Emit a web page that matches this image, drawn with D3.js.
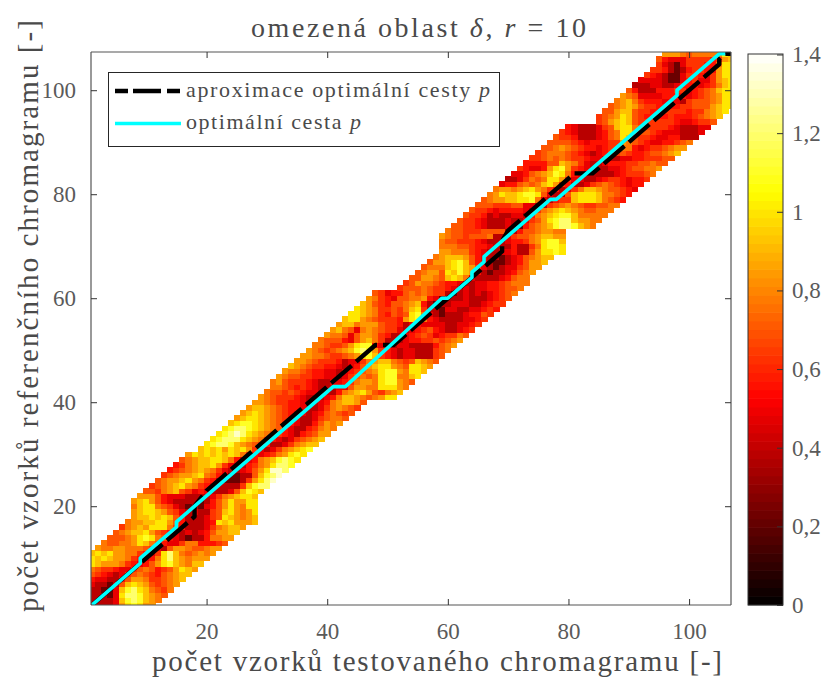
<!DOCTYPE html>
<html><head><meta charset="utf-8">
<script src="https://cdnjs.cloudflare.com/ajax/libs/d3/7.8.5/d3.min.js"></script>
<style>html,body{margin:0;padding:0;background:#fff}svg{display:block}text{font-family:"Liberation Serif",serif}</style>
</head><body><svg id="c" width="825" height="677"></svg>
<script>
// First column of each row of the band, rows 1..107
const rowStart=[1,1,1,1,1,1,1,1,1,1,1,2,3,4,5,6,7,8,8,8,8,9,10,11,12,13,14,15,16,17,19,20,21,22,23,24,25,26,27,28,29,30,31,31,32,33,34,35,36,37,38,39,40,41,42,43,44,45,46,47,48,52,53,54,55,56,57,58,59,59,59,59,60,61,62,63,64,65,66,67,68,69,70,71,72,73,74,75,76,77,78,79,80,85,85,86,87,88,89,90,91,92,93,94,95,95,96];
// Cell codes per row (hex digit = index into valueLevels), rows 1..107
const valueLevels=[0.05,0.22,0.38,0.48,0.56,0.63,0.7,0.77,0.84,0.92,1.0,1.1,1.2,1.32,1.4];
const rowValues=[
"22223 8aba8 8","22223 9bcb9 87","22213 accb9 876","22113 9bca9 7657","32212 69a98 65678","43322 46887 55678 9","65432 35676 54678 99","76554 33567 64568 a98","a9888 75434 68ab9 8799","a9a98 87543 47ac9 87888","9a9a8 87754 35ac9 76787 8",
"87788 77765 32688 76678 8","76677 8a976 43357 74445 6","66678 aba76 43212 24778 8","67899 a8654 32323 46889 9","57898 aaa75 42223 57899 8","78899 aa864 22234 a9a88 89","899a9 a9642 22356 a9878 9","89aa9 86532 32256 9a878 a","79aa7 65321 21346 8a87a a","89a86 43222 21246 8a88a a",
"88864 33322 22357 89aa9","66578 96534 32223 69ba9","56789 a8754 32222 59bcc","67889 a8754 21112 58acd","56788 9a764 31122 69bcd","45678 98753 22346 8addc","45789 9a853 32457 8accb","67899 aa974 33478 9bcba","8a9a9 a9a97 54345 78aba",
"9a9a8 a9a85 32357 89ab","abccb 98765 42235 7899","abccc a9875 43235 6789","abcdc a9876 54324 5688","abccb a9876 43224 5787","9abba 98765 43224 6878","89aa9 87654 32235 6776","89a98 76543 32346 7656","89987 65443 22357 8765","88765 54432 23478 9986",
"87655 54322 23479 98767 8aa","76656 54332 22478 9a865 789","77654 54322 23368 877aa a87","78655 54322 33457 887ab b876","87665 54433 23567 67abb 779a","87765 44332 34567 8abb8 7aa9","98765 54432 34689 aa876 aa98","88765 55423 35789 97656 9876","88776 55678 ab954 32332 2256","87656 789bc b8543 23322 2567",
"77655 68abb 43223 32222 4678","76664 36897 52223 44556 5678","87763 68875 42234 56534 5576","89763 78765 53234 56432 2345","89978 88655 42343 33322 3345","9aa87 65554 8ab74 32222 3345","aa987 54656 ab732 12223 4465","a9875 56579 a5221 33223 3454","98654 66789 42122 33322 3455","87543 66778 43122 23222 3456","65344 67676 55212 32323 4567",
"56667 65543 23233 44566 7","56877 65443 22334 45677 7","66887 69a97 32222 34677","67886 a9b98 42122 34678","67779 ab985 32123 35688","6889a b9643 21123 46889","78999 86432 21234 67899","88777 54322 33422 68aab a","77766 54432 22422 57abb a","76655 54322 23445 78abb 9","87665 66672 23566 78998 8","76655 56666 22466 78877",
"66554 32223 21467 89bcc b987","65543 22232 23568 abcc9 8877","65542 32233 24789 abb97 7777","65543 44443 25789 a9876 6777","66655 56633 22567 87655 6677","67889 9aab7 32455 9aaa9 7654","78a99 abba6 32269 aaa97 7654","78878 9a875 42357 99876 6543","34467 679a8 54223 56765 4344","22357 67aa8 53322 34554 3445","33467 89ba7 43222 22345 5567","54334 8ab85 43222 33456 6778","44446 69875 32234 44556 6766","55676 76554 33222 33445 5566",
"56777 65432 34556 54456 6789","66787 65443 45577 43455 6788","66665 43444 55876 54334 4567","65542 22346 7a965 54334 4222","54322 23467 aa866 54333 2223","43222 3569a a7655 55432 2233",
"5689a 96555 55543 34556","5678a 96544 44544 45678 9","66899 65544 55554 55789 a","67898 65544 44556 6689a a","78975 44433 32566 678aa","87633 33444 43456 78aa","64222 44455 34567 9aa","22233 22344 43457 9a","33332 11345 33589 a","54321 13554 358aa","55421 24554 48aa","53213 55544 7aa","64333 55554 589","88876 77777 a9"];
// Path vertices
const approxX=[1,18,18,20,48,50,51,60,69,69,70,81,83,84,105,105,106,107];
const approxY=[1,18,20,23,51,51,51,60,69,71,73,84,84,84,105,106,107,107];
const optX=[1,9,9,15,15,16,41,43,59,60,64,64,66,66,77,78,98,98,105,106];
const optY=[1,9,10,16,17,18,43,43,60,60,64,65,67,68,79,79,99,100,107,107];
const xTicks=[20,40,60,80,100];
const yTicks=[20,40,60,80,100];
const cbTicks=[0,0.2,0.4,0.6,0.8,1,1.2,1.4];

const svg=d3.select("#c");
const L=91,R=731,T=52,B=605;
const x=d3.scaleLinear().domain([1,106.95]).range([L+1,R]);
const y=d3.scaleLinear().domain([1,107.35]).range([B,T]);
const color=d3.scaleLinear().domain([0,0.525,1.05,1.4]).range(["#000","#f00","#ff0","#fff"]).clamp(true);
const dec=c=>valueLevels[parseInt(c,16)];
const comma=v=>String(v).replace(".",",");
const ink="#4a4a4a";

svg.append("clipPath").attr("id","pl").append("rect").attr("x",L).attr("y",T).attr("width",R-L).attr("height",B-T);
const g=svg.append("g").attr("clip-path","url(#pl)");

const cells=[];
rowValues.forEach((s,i)=>{
  const str=s.replace(/ /g,"");
  for(let k=0;k<str.length;k++) cells.push({c:rowStart[i]+k,r:i+1,v:dec(str[k])});
});
g.selectAll("rect.cell").data(cells).join("rect").attr("class","cell")
 .attr("x",d=>x(d.c-.5)).attr("y",d=>y(d.r+.5))
 .attr("width",d=>x(d.c+.5)-x(d.c-.5)+.5).attr("height",d=>y(d.r-.5)-y(d.r+.5)+.5)
 .attr("shape-rendering","crispEdges")
 .attr("fill",d=>color(d.v));

const line=d3.line().x(d=>x(d[0])).y(d=>y(d[1]));
const dash="27,6";
g.append("path").attr("d",line(d3.zip(approxX,approxY))).attr("fill","none").attr("stroke","#000").attr("stroke-width",4.4).attr("stroke-dasharray",dash).attr("stroke-linejoin","round");
g.append("path").attr("d",line(d3.zip(optX,optY))).attr("fill","none").attr("stroke","#00ffff").attr("stroke-width",3.6).attr("stroke-linejoin","round");

function style(a,show){
  a.select(".domain").attr("stroke","#555").attr("stroke-width",1.2);
  a.selectAll(".tick line").attr("stroke","#333").attr("stroke-width",1);
  a.selectAll("text").attr("fill","#5a5a5a").style("font-size","23px").style("font-family","'Liberation Serif',serif");
  if(!show) a.selectAll("text").remove();
}
const ax=svg.append("g").attr("transform",`translate(0,${B})`).call(d3.axisBottom(x).tickValues(xTicks).tickSizeInner(-6).tickSizeOuter(0).tickPadding(18));
style(ax,true);
const at=svg.append("g").attr("transform",`translate(0,${T})`).call(d3.axisTop(x).tickValues(xTicks).tickSizeInner(-6).tickSizeOuter(0));
style(at,false);
const ay=svg.append("g").attr("transform",`translate(${L},0)`).call(d3.axisLeft(y).tickValues(yTicks).tickSizeInner(-6).tickSizeOuter(0).tickPadding(15));
style(ay,true);
const ar=svg.append("g").attr("transform",`translate(${R},0)`).call(d3.axisRight(y).tickValues(yTicks).tickSizeInner(-6).tickSizeOuter(0));
style(ar,false);
[ax,at,ay,ar].forEach(a=>a.select(".domain").attr("d",a===ax||a===at?`M${L},0H${R}`:`M0,${T}V${B}`));

// Colour bar
const cb=d3.scaleLinear().domain([0,1.4]).range([B,54.5]);
const levels=d3.range(0,64);
const bx=748,bw=35;
svg.selectAll("rect.cb").data(levels).join("rect").attr("class","cb")
 .attr("x",bx).attr("width",bw)
 .attr("y",d=>cb((d+1)*1.4/64)-.3).attr("height",d=>cb(d*1.4/64)-cb((d+1)*1.4/64)+.6)
 .attr("fill",d=>color((d+.5)*1.4/64));
const ac=svg.append("g").attr("transform",`translate(${bx+bw},0)`).call(d3.axisRight(cb).tickValues(cbTicks).tickFormat(comma).tickSizeInner(-6).tickSizeOuter(0).tickPadding(9));
style(ac,true);
ac.select(".domain").remove();
svg.append("rect").attr("x",bx).attr("y",54).attr("width",bw).attr("height",B-54).attr("fill","none").attr("stroke","#333").attr("stroke-width",1);

// Legend
const lg=svg.append("g");
lg.append("rect").attr("x",108.5).attr("y",72.5).attr("width",391).attr("height",74).attr("fill","#fff").attr("stroke","#262626").attr("stroke-width",1);
lg.append("line").attr("x1",115).attr("x2",181).attr("y1",91).attr("y2",91).attr("stroke","#000").attr("stroke-width",4.4).attr("stroke-dasharray","13,5,28,6,13");
lg.append("line").attr("x1",115).attr("x2",181).attr("y1",123.5).attr("y2",123.5).attr("stroke","#00ffff").attr("stroke-width",3.6);
function rich(sel,parts,attrs){
  const t=sel.append("text").attr("fill",attrs.fill||ink).style("font-size",attrs.size+"px");
  if(attrs.transform) t.attr("transform",attrs.transform); else t.attr("x",attrs.x).attr("y",attrs.y);
  if(attrs.len) t.attr("textLength",attrs.len).attr("lengthAdjust","spacing");
  parts.forEach(p=>t.append("tspan").text(p[0]).style("font-style",p[1]?"italic":"normal"));
  return t;
}
rich(lg,[["aproximace optimální cesty ",0],["p",1]],{x:186,y:97,size:22,len:304});
rich(lg,[["optimální cesta ",0],["p",1]],{x:186,y:129,size:22,len:175});
rich(svg,[["omezená oblast ",0],["δ",1],[", ",0],["r",1],[" = 10",0]],{x:251,y:37,size:28,len:335});
rich(svg,[["počet vzorků testovaného chromagramu [-]",0]],{x:152,y:671,size:29,len:570});
rich(svg,[["počet vzorků referenčního chromagramu [-]",0]],{transform:"translate(38,612) rotate(-90)",size:29,len:592});
</script></body></html>
